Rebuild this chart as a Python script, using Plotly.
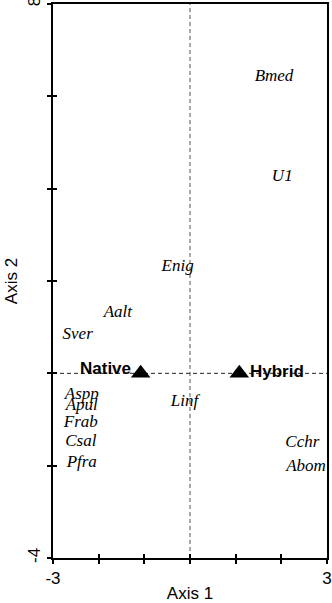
import plotly.graph_objects as go

species = ["Bmed", "U1", "Enig", "Aalt", "Sver", "Aspp", "Apul", "Frab", "Csal", "Pfra", "Linf", "Cchr", "Abom"]
sp_x = [1.84, 2.02, -0.27, -1.58, -2.46, -2.37, -2.37, -2.39, -2.39, -2.37, -0.12, 2.46, 2.54]
sp_y = [6.42, 4.26, 2.31, 1.31, 0.83, -0.46, -0.70, -1.07, -1.48, -1.94, -0.62, -1.50, -2.02]

groups = ["Native", "Hybrid"]
grp_x = [-1.08, 1.08]
grp_y = [0.0, 0.0]

x_ticks = [-3, -2, -1, 0, 1, 2, 3]
x_ticktext = ["-3", "", "", "", "", "", "3"]
y_ticks = [-4, -2, 0, 2, 4, 6, 8]
y_ticktext = ["-4", "", "", "", "", "", "8"]

fig = go.Figure()

fig.add_trace(go.Scatter(
    x=sp_x, y=sp_y, mode="text", text=species,
    textfont=dict(family="Liberation Serif", size=17, color="black"),
    textposition="middle center", hoverinfo="skip", showlegend=False,
    texttemplate="<i>%{text}</i>"))

fig.add_trace(go.Scatter(
    x=grp_x, y=grp_y, mode="markers",
    marker=dict(symbol="triangle-up", size=17, color="black"),
    showlegend=False, hoverinfo="skip"))

for g, gx, gy, anchor, xs, ys in zip(groups, grp_x, grp_y, ["right", "left"], [-8, 9], [5, 2]):
    fig.add_annotation(x=gx, y=gy, xref="x", yref="y", text="<b>" + g + "</b>",
                       showarrow=False, xanchor=anchor, yanchor="middle",
                       xshift=xs, yshift=ys,
                       font=dict(family="Liberation Sans", size=17, color="black"))

# invisible trace for overlay axes (inside tick halves)
fig.add_trace(go.Scatter(x=[0], y=[0], xaxis="x2", yaxis="y2", mode="markers",
                         marker=dict(opacity=0), showlegend=False, hoverinfo="skip"))

fig.add_shape(type="line", x0=0, x1=0, y0=-4, y1=8, xref="x", yref="y",
              line=dict(color="#555", width=1, dash="4px,3px"), layer="below")
fig.add_shape(type="line", x0=-3, x1=3, y0=0, y1=0, xref="x", yref="y",
              line=dict(color="#222", width=1, dash="4px,3px"), layer="below")

axis_common = dict(showgrid=False, zeroline=False, showline=True, linecolor="black",
                   linewidth=2, mirror=True, ticks="outside", ticklen=4, tickwidth=1.5,
                   tickcolor="black", automargin=False, ticklabeloverflow="allow",
                   tickfont=dict(family="Liberation Sans", size=17, color="black"))

fig.update_layout(
    width=332, height=603,
    margin=dict(l=53, r=5, t=4, b=45),
    plot_bgcolor="white", paper_bgcolor="white",
    xaxis=dict(range=[-3, 3], tickvals=x_ticks, ticktext=x_ticktext,
               title=dict(text="Axis 1", font=dict(family="Liberation Sans", size=17, color="black"), standoff=2),
               **axis_common),
    yaxis=dict(range=[-4, 8], tickvals=y_ticks, ticktext=y_ticktext, tickangle=-90,
               title=dict(text="Axis 2", font=dict(family="Liberation Sans", size=17, color="black"), standoff=3),
               **axis_common),
    xaxis2=dict(range=[-3, 3], overlaying="x", side="bottom", tickvals=x_ticks,
                showticklabels=False, ticks="inside", ticklen=4, tickwidth=1.5,
                tickcolor="black", showgrid=False, zeroline=False, showline=False),
    yaxis2=dict(range=[-4, 8], overlaying="y", side="left", tickvals=y_ticks,
                showticklabels=False, ticks="inside", ticklen=4, tickwidth=1.5,
                tickcolor="black", showgrid=False, zeroline=False, showline=False),
)

fig.write_html("out.html", config={"displayModeBar": False},
               post_script="document.body.style.margin='0';document.body.style.overflow='hidden';")
